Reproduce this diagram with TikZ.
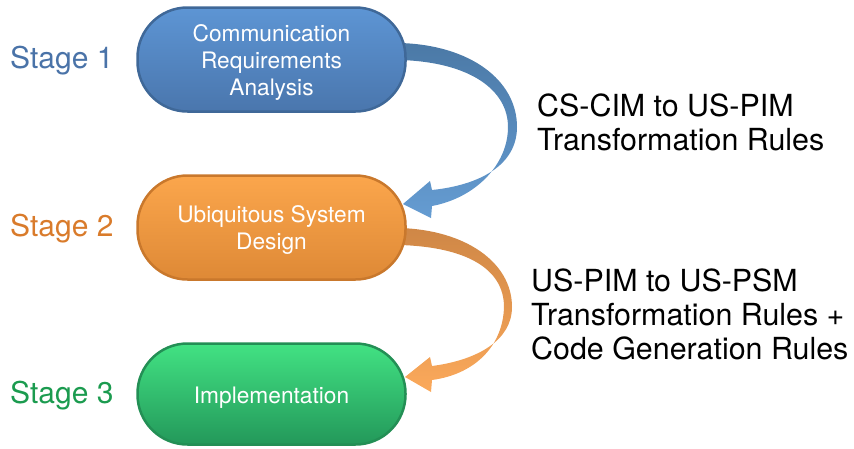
\documentclass[tikz,border=0pt]{standalone}
\usepackage{fontspec}
\setmainfont{TeX Gyre Heros}
\definecolor{stA}{HTML}{4A73A8}
\definecolor{stB}{HTML}{D97B2B}
\definecolor{stC}{HTML}{1B9B4F}
\definecolor{bAt}{HTML}{5D95D4}
\definecolor{bAb}{HTML}{4A76AD}
\definecolor{bAd}{HTML}{3F6898}
\definecolor{bBt}{HTML}{FBA64C}
\definecolor{bBb}{HTML}{DE8936}
\definecolor{bBd}{HTML}{C9782C}
\definecolor{bCt}{HTML}{42E283}
\definecolor{bCb}{HTML}{23985A}
\definecolor{bCd}{HTML}{238F55}
\definecolor{aAt}{HTML}{4B79A6}
\definecolor{aAb}{HTML}{659CD2}
\definecolor{aBt}{HTML}{CF8746}
\definecolor{aBb}{HTML}{FBA95B}
\begin{document}
\begin{tikzpicture}[x=1pt,y=-1pt,
  stagebox/.style={rounded corners=50pt, minimum width=268pt, minimum height=104pt,
    line width=2.5pt, inner sep=0pt},
  boxtext/.style={text=white, align=center, font=\fontsize{22.7}{27}\selectfont, inner sep=0pt},
  stagelbl/.style={anchor=west, font=\fontsize{30}{34}\selectfont, inner sep=0pt},
  rulelbl/.style={anchor=north west, align=left, font=\fontsize{30.4}{34}\selectfont, inner sep=0pt}]
\useasboundingbox (0,0) rectangle (854,448);
% arrows
\shade[top color=aAt, bottom color=aAb]
 (400,43) .. controls (470,45) and (517,80) .. (517,127)
 .. controls (517,165) and (480,185) .. (432,190)
 -- (430,181) -- (403,204) -- (431,218) -- (432,206)
 .. controls (475,198) and (508,165) .. (508,127)
 .. controls (508,90) and (470,62) .. (400,60) -- cycle;
\shade[top color=aBt, bottom color=aBb]
 (400,228) .. controls (465,230) and (512,262) .. (512,307)
 .. controls (512,340) and (478,360) .. (432,366)
 -- (430,357) -- (405,377) -- (431,392) -- (432,380)
 .. controls (476,374) and (503,345) .. (504,307)
 .. controls (504,268) and (465,247) .. (400,245) -- cycle;
% boxes
\node[stagebox, draw=bAd, top color=bAt, bottom color=bAb] (b1) at (271.5,59.5) {};
\node[stagebox, draw=bBd, top color=bBt, bottom color=bBb] (b2) at (271.5,227.5) {};
\node[stagebox, draw=bCd, top color=bCt, bottom color=bCb, minimum height=101pt] (b3) at (271.5,394) {};
\node[boxtext] (t1) at ([yshift=-2.5pt]b1.center) {Communication\\Requirements\\Analysis};
\node[boxtext] (t2) at ([yshift=-2.5pt]b2.center) {Ubiquitous System\\Design};
\node[boxtext] (t3) at ([yshift=-3.5pt]b3.center) {Implementation};
% stage labels
\node[stagelbl, text=stA] (s1) at (10,61) {Stage 1};
\node[stagelbl, text=stB] (s2) at (10,229) {Stage 2};
\node[stagelbl, text=stC] (s3) at (10,396) {Stage 3};
% rule labels
\node[rulelbl] (r1) at (537,94) {CS-CIM to US-PIM\\Transformation Rules};
\node[rulelbl] (r2) at (531,269) {US-PIM to US-PSM\\Transformation Rules +\\Code Generation Rules};
\end{tikzpicture}
\end{document}
